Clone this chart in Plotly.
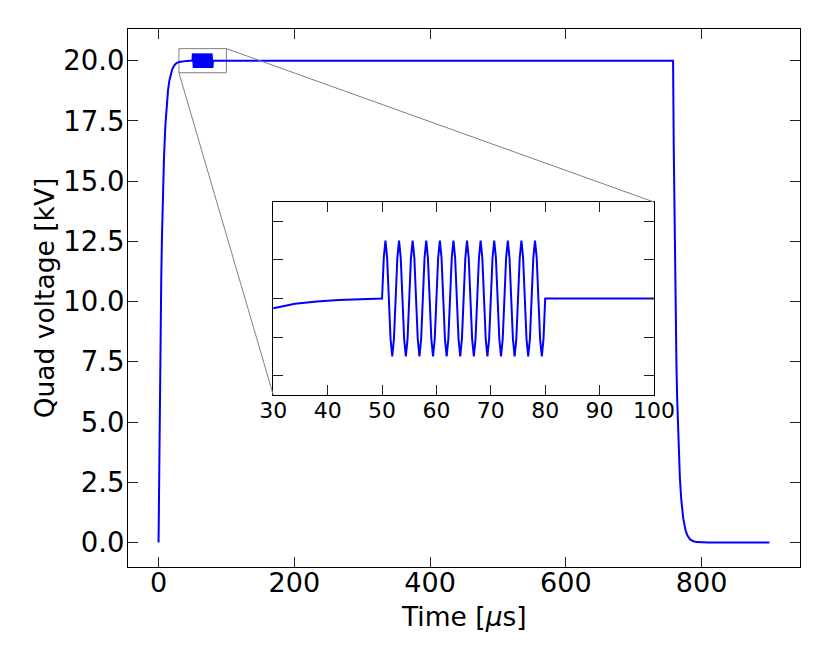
import plotly.graph_objects as go

# --- data ---
# rise from 0 to 20 kV
rise_t = [0, 1, 2, 3, 4, 5, 6, 7, 8, 10, 12, 14, 16, 18, 20, 23, 26, 30, 34, 38, 42, 46, 50]
rise_v = [0.0, 3.63, 6.59, 9.02, 11.01, 12.64, 13.98, 15.07, 15.96, 17.29, 18.19, 18.78,
          19.18, 19.45, 19.63, 19.80, 19.89, 19.95, 19.973, 19.985, 19.992, 19.996, 20.0]

# 400 kHz ripple between 50 and 80 us
osc_t = [50.3125, 50.625, 50.9375, 51.25, 51.5625, 51.875, 52.1875, 52.5,
         52.8125, 53.125, 53.4375, 53.75, 54.0625, 54.375, 54.6875, 55.0,
         55.3125, 55.625, 55.9375, 56.25, 56.5625, 56.875, 57.1875, 57.5,
         57.8125, 58.125, 58.4375, 58.75, 59.0625, 59.375, 59.6875, 60.0,
         60.3125, 60.625, 60.9375, 61.25, 61.5625, 61.875, 62.1875, 62.5,
         62.8125, 63.125, 63.4375, 63.75, 64.0625, 64.375, 64.6875, 65.0,
         65.3125, 65.625, 65.9375, 66.25, 66.5625, 66.875, 67.1875, 67.5,
         67.8125, 68.125, 68.4375, 68.75, 69.0625, 69.375, 69.6875, 70.0,
         70.3125, 70.625, 70.9375, 71.25, 71.5625, 71.875, 72.1875, 72.5,
         72.8125, 73.125, 73.4375, 73.75, 74.0625, 74.375, 74.6875, 75.0,
         75.3125, 75.625, 75.9375, 76.25, 76.5625, 76.875, 77.1875, 77.5,
         77.8125, 78.125, 78.4375, 78.75, 79.0625, 79.375, 79.6875, 80.0]
osc_v = [20.21, 20.3, 20.21, 20.0, 19.79, 19.7, 19.79, 20.0,
         20.21, 20.3, 20.21, 20.0, 19.79, 19.7, 19.79, 20.0,
         20.21, 20.3, 20.21, 20.0, 19.79, 19.7, 19.79, 20.0,
         20.21, 20.3, 20.21, 20.0, 19.79, 19.7, 19.79, 20.0,
         20.21, 20.3, 20.21, 20.0, 19.79, 19.7, 19.79, 20.0,
         20.21, 20.3, 20.21, 20.0, 19.79, 19.7, 19.79, 20.0,
         20.21, 20.3, 20.21, 20.0, 19.79, 19.7, 19.79, 20.0,
         20.21, 20.3, 20.21, 20.0, 19.79, 19.7, 19.79, 20.0,
         20.21, 20.3, 20.21, 20.0, 19.79, 19.7, 19.79, 20.0,
         20.21, 20.3, 20.21, 20.0, 19.79, 19.7, 19.79, 20.0,
         20.21, 20.3, 20.21, 20.0, 19.79, 19.7, 19.79, 20.0,
         20.21, 20.3, 20.21, 20.0, 19.79, 19.7, 19.79, 20.0]

# flat top then fall back to 0
fall_t = [758, 759, 760, 761, 762, 763, 764, 766, 768, 770, 773, 776, 779, 783, 788, 793, 798, 810, 900]
fall_v = [20.0, 16.37, 13.41, 10.98, 8.99, 7.36, 6.02, 4.04, 2.71, 1.81, 1.0, 0.55, 0.30,
          0.13, 0.05, 0.018, 0.007, 0.0, 0.0]

time_us = rise_t + osc_t + fall_t
volt_kv = rise_v + osc_v + fall_v

x_ticks = [0, 200, 400, 600, 800]
inset_x_ticks = [30, 40, 50, 60, 70, 80, 90, 100]
inset_y_ticks = [19.6, 19.8, 20.0, 20.2, 20.4]

x_range = [-45, 945]
y_range = [-1.015, 21.315]
zoom_x = [30, 100]
zoom_y = [19.5, 20.5]
inset_dom_x = [0.2162, 0.7827]
inset_dom_y = [0.3197, 0.6784]

blue = "#0000ff"
font = "DejaVu Sans"

fig = go.Figure()

fig.add_trace(go.Scatter(x=time_us, y=volt_kv, mode="lines",
                         line=dict(color=blue, width=2), xaxis="x", yaxis="y",
                         showlegend=False, hoverinfo="skip"))
fig.add_trace(go.Scatter(x=time_us, y=volt_kv, mode="lines",
                         line=dict(color=blue, width=2),
                         xaxis="x2", yaxis="y2", showlegend=False, hoverinfo="skip"))

ax_common = dict(showgrid=False, zeroline=False, showline=True, linecolor="black",
                 linewidth=1, mirror="ticks", ticks="inside", ticklen=10,
                 tickwidth=1, tickcolor="#222", automargin=False)

# page body adds an 8px offset, so the figure is a bit smaller than the window
fig.update_layout(
    width=822, height=656,
    margin=dict(l=120, r=30, t=21, b=97, pad=0),
    paper_bgcolor="white", plot_bgcolor="white",
    font=dict(family=font, color="black", size=26),
    xaxis=dict(ax_common, range=x_range, tickvals=x_ticks, domain=[0, 1],
               tickfont=dict(size=27), ticklabelstandoff=-8),
    yaxis=dict(ax_common, range=y_range, tick0=0, dtick=2.5, tickformat=".1f",
               domain=[0, 1], tickfont=dict(size=27.5), ticklabelstandoff=-3,
               title=dict(text="Quad voltage [kV]", font=dict(size=26.5), standoff=0)),
    xaxis2=dict(ax_common, range=zoom_x, tickvals=inset_x_ticks, domain=inset_dom_x,
                anchor="y2", tickfont=dict(size=22), ticklabelstandoff=-4),
    yaxis2=dict(ax_common, range=zoom_y, tickvals=inset_y_ticks, domain=inset_dom_y,
                anchor="x2", showticklabels=False),
)

# x title placed as an annotation to match its height under the tick labels
fig.add_annotation(text="Time [<i>μ</i>s]", xref="paper", yref="paper", x=0.5, y=-0.092,
                   xanchor="center", yanchor="middle", showarrow=False,
                   font=dict(size=26.5))


def to_paper(x, y):
    px = (x - x_range[0]) / (x_range[1] - x_range[0])
    py = (y - y_range[0]) / (y_range[1] - y_range[0])
    return px, py


grey = "#808080"
# zoom box on the main axes
fig.add_shape(type="rect", xref="x", yref="y", x0=zoom_x[0], x1=zoom_x[1],
              y0=zoom_y[0], y1=zoom_y[1], line=dict(color=grey, width=1), layer="below")
# connector lines box -> inset
bx, by = to_paper(zoom_x[1], zoom_y[1])
fig.add_shape(type="line", xref="paper", yref="paper", x0=bx, y0=by,
              x1=inset_dom_x[1], y1=inset_dom_y[1], line=dict(color=grey, width=1))
bx, by = to_paper(zoom_x[0], zoom_y[0])
fig.add_shape(type="line", xref="paper", yref="paper", x0=bx, y0=by,
              x1=inset_dom_x[0], y1=inset_dom_y[0], line=dict(color=grey, width=1))

fig.write_html("out.html")
